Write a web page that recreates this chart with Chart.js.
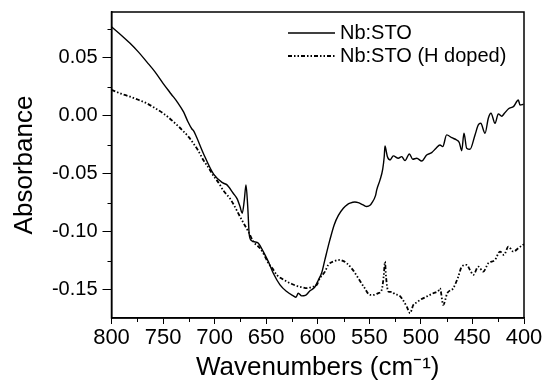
<!DOCTYPE html>
<html>
<head>
    <title>Nb:STO absorbance</title>
    <script src="https://cdn.jsdelivr.net/npm/chart.js@4.4.1/dist/chart.umd.min.js"></script>
    <style>
        body { margin: 0; background: white; }
        .wrap { width: 545px; height: 383px; }
    </style>
</head>
<body>
    <div class="wrap"><canvas id="irChart" width="545" height="383"></canvas></div>

    <script>
        // Spectra (wavenumber, absorbance)
        const nbWave = [800, 790, 782, 774, 766, 758, 750, 742, 736, 730, 726, 722, 720.5, 718.5, 711, 701, 692, 688, 682, 678, 675.4, 673.2, 671.2, 669.6, 667.9, 666.4, 664.1, 660, 657.6, 652.8, 647.9, 643.1, 636.6, 630.1, 623.7, 621.1, 618.9, 615.6, 612, 607.5, 603, 599.5, 596, 593, 588.5, 584, 580, 575.2, 571, 568.7, 564, 560.7, 556, 552.5, 549, 547.7, 544, 542.8, 539.6, 537, 535.5, 534.8, 533.5, 532.5, 529.9, 526.7, 521.9, 518.6, 515.4, 511.2, 507.9, 504, 499.2, 494.4, 489.5, 485.3, 481.5, 478.8, 475, 470.1, 465.3, 462.7, 460.4, 458.2, 455.6, 452.4, 447.5, 444.3, 442, 437.8, 434.6, 432, 428.1, 424.9, 421.6, 419, 415, 410, 405.5, 403.9, 400.5];
        const nbAbs = [0.0767, 0.069, 0.0624, 0.055, 0.0466, 0.038, 0.0279, 0.0185, 0.0115, 0.003, -0.005, -0.0115, -0.013, -0.0165, -0.0324, -0.0505, -0.058, -0.0597, -0.0669, -0.072, -0.0784, -0.0841, -0.0727, -0.0597, -0.0784, -0.1028, -0.1078, -0.109, -0.110, -0.1172, -0.1259, -0.1359, -0.1459, -0.1517, -0.1554, -0.1566, -0.1531, -0.1554, -0.155, -0.151, -0.148, -0.142, -0.135, -0.124, -0.108, -0.094, -0.086, -0.0798, -0.0765, -0.0755, -0.0745, -0.075, -0.077, -0.0784, -0.077, -0.0755, -0.069, -0.064, -0.0554, -0.0462, -0.035, -0.0261, -0.031, -0.0353, -0.0382, -0.0347, -0.0367, -0.0353, -0.0388, -0.033, -0.0376, -0.0367, -0.0391, -0.0339, -0.0319, -0.0281, -0.0253, -0.0267, -0.0166, -0.019, -0.021, -0.0233, -0.0302, -0.0152, -0.0281, -0.029, -0.0166, -0.008, -0.0066, -0.0152, -0.0022, 0.0021, -0.0066, 0.0015, -0.0005, 0.002, 0.006, 0.008, 0.0135, 0.0092, 0.0098];

        const hWave = [800, 791, 782, 774, 766, 758, 750, 745, 740, 735, 730, 725, 720.7, 716, 711, 706, 701.3, 696, 691.6, 685.1, 682, 673.7, 667.3, 662.5, 656, 652, 647.9, 643, 639.8, 635, 630.1, 625, 620.4, 615, 610.7, 606, 601, 597.8, 593, 589.8, 584, 578.4, 575, 571.9, 566, 560.7, 555, 549.3, 546, 541.3, 538, 536, 534.8, 533.8, 531.6, 528, 525.1, 521, 518.6, 513.7, 510.5, 507.3, 504, 500.8, 494.4, 487.9, 483, 481.5, 478.3, 474.4, 468.6, 463.7, 460.4, 455.6, 452.4, 449.2, 444.3, 439.5, 434.6, 428.1, 423.3, 419.4, 415.2, 410.4, 405.5, 401.3, 400];
        const hAbs = [0.0222, 0.019, 0.0164, 0.0137, 0.0107, 0.0066, 0.0021, -0.0013, -0.0052, -0.0093, -0.0138, -0.0185, -0.0238, -0.030, -0.0382, -0.0447, -0.0516, -0.058, -0.0645, -0.0715, -0.076, -0.0899, -0.100, -0.1086, -0.1143, -0.120, -0.1272, -0.133, -0.1373, -0.1405, -0.1431, -0.1452, -0.1468, -0.148, -0.1488, -0.1478, -0.1459, -0.140, -0.1345, -0.1287, -0.1255, -0.1244, -0.1255, -0.1272, -0.133, -0.1402, -0.148, -0.1546, -0.1546, -0.1531, -0.1503, -0.138, -0.1259, -0.1388, -0.1517, -0.152, -0.154, -0.155, -0.1574, -0.1647, -0.1703, -0.1632, -0.161, -0.1589, -0.156, -0.1531, -0.151, -0.1488, -0.1632, -0.1531, -0.1488, -0.1388, -0.1302, -0.1287, -0.133, -0.1373, -0.1302, -0.1345, -0.1272, -0.1244, -0.1172, -0.1201, -0.1129, -0.1172, -0.1143, -0.1115, -0.111];

        const seriesNames = ['Nb:STO', 'Nb:STO (H doped)'];
        const yTicks = [-0.15, -0.10, -0.05, 0.00, 0.05];
        const yMinor = [-0.175, -0.125, -0.075, -0.025, 0.025, 0.075];
        const xMinor = [775, 725, 675, 625, 575, 525, 475, 425];

        const fontFamily = '"Liberation Sans", Arial, sans-serif';
        const hDash = [4, 2, 1.5, 2, 1.5, 2];

        const toPoints = (xs, ys) => xs.map((x, i) => ({ x: x, y: ys[i] }));

        // frame, minor ticks and the legend inside the plot
        const extras = {
            id: 'extras',
            afterDraw(chart) {
                const ctx = chart.ctx;
                const a = chart.chartArea;
                const xs = chart.scales.x;
                const ys = chart.scales.y;
                ctx.save();
                ctx.strokeStyle = '#000';
                ctx.lineWidth = 1.5;
                ctx.strokeRect(a.left, a.top, a.right - a.left, a.bottom - a.top);

                ctx.lineWidth = 1;
                ctx.beginPath();
                xMinor.forEach(v => {
                    const px = Math.round(xs.getPixelForValue(v)) + 0.5;
                    ctx.moveTo(px, a.bottom);
                    ctx.lineTo(px, a.bottom + 4);
                });
                yMinor.forEach(v => {
                    if (v < ys.min) return;
                    const py = Math.round(ys.getPixelForValue(v)) + 0.5;
                    ctx.moveTo(a.left, py);
                    ctx.lineTo(a.left - 4, py);
                });
                ctx.stroke();

                // legend
                const rows = [33, 56];
                chart.data.datasets.forEach((ds, i) => {
                    ctx.beginPath();
                    ctx.lineWidth = ds.borderWidth;
                    ctx.setLineDash(ds.borderDash || []);
                    ctx.moveTo(288, rows[i]);
                    ctx.lineTo(335, rows[i]);
                    ctx.stroke();
                    ctx.setLineDash([]);
                    ctx.fillStyle = '#000';
                    ctx.font = '20px ' + fontFamily;
                    ctx.textBaseline = 'middle';
                    ctx.fillText(seriesNames[i], 340, rows[i]);
                });
                ctx.restore();
            }
        };

        new Chart(document.getElementById('irChart'), {
            type: 'line',
            data: {
                datasets: [
                    {
                        label: seriesNames[0],
                        data: toPoints(nbWave, nbAbs),
                        borderColor: '#000',
                        borderWidth: 1.4,
                        pointRadius: 0,
                        cubicInterpolationMode: 'monotone'
                    },
                    {
                        label: seriesNames[1],
                        data: toPoints(hWave, hAbs),
                        borderColor: '#000',
                        borderWidth: 1.8,
                        borderDash: hDash,
                        pointRadius: 0,
                        cubicInterpolationMode: 'monotone'
                    }
                ]
            },
            options: {
                responsive: false,
                animation: false,
                layout: { padding: { left: 9, right: 21, top: 12, bottom: 0 } },
                plugins: {
                    legend: { display: false },
                    tooltip: { enabled: false }
                },
                scales: {
                    x: {
                        type: 'linear',
                        reverse: true,
                        min: 400,
                        max: 800,
                        afterFit: (scale) => { scale.height = 65; },
                        grid: { drawOnChartArea: false, color: '#000', tickLength: 6, lineWidth: 1 },
                        border: { color: '#000', width: 1.5 },
                        ticks: {
                            stepSize: 50,
                            color: '#000',
                            padding: 1,
                            maxRotation: 0,
                            font: { family: fontFamily, size: 22 }
                        },
                        title: {
                            display: true,
                            text: 'Wavenumbers (cm\u207B\u00B9)',
                            color: '#000',
                            padding: 0,
                            font: { family: fontFamily, size: 26 }
                        }
                    },
                    y: {
                        min: -0.1745,
                        max: 0.0894,
                        afterFit: (scale) => {
                            scale.width = 102.5;
                            scale.paddingTop = 0;
                            scale.paddingBottom = 0;
                        },
                        afterBuildTicks: (scale) => { scale.ticks = yTicks.map(v => ({ value: v })); },
                        grid: { drawOnChartArea: false, color: '#000', tickLength: 9, lineWidth: 1 },
                        border: { color: '#000', width: 1.5 },
                        ticks: {
                            color: '#000',
                            padding: 5,
                            font: { family: fontFamily, size: 20 },
                            callback: (v) => v.toFixed(2)
                        },
                        title: {
                            display: true,
                            text: 'Absorbance',
                            color: '#000',
                            padding: 0,
                            font: { family: fontFamily, size: 26 }
                        }
                    }
                }
            },
            plugins: [extras]
        });
    </script>
</body>
</html>
